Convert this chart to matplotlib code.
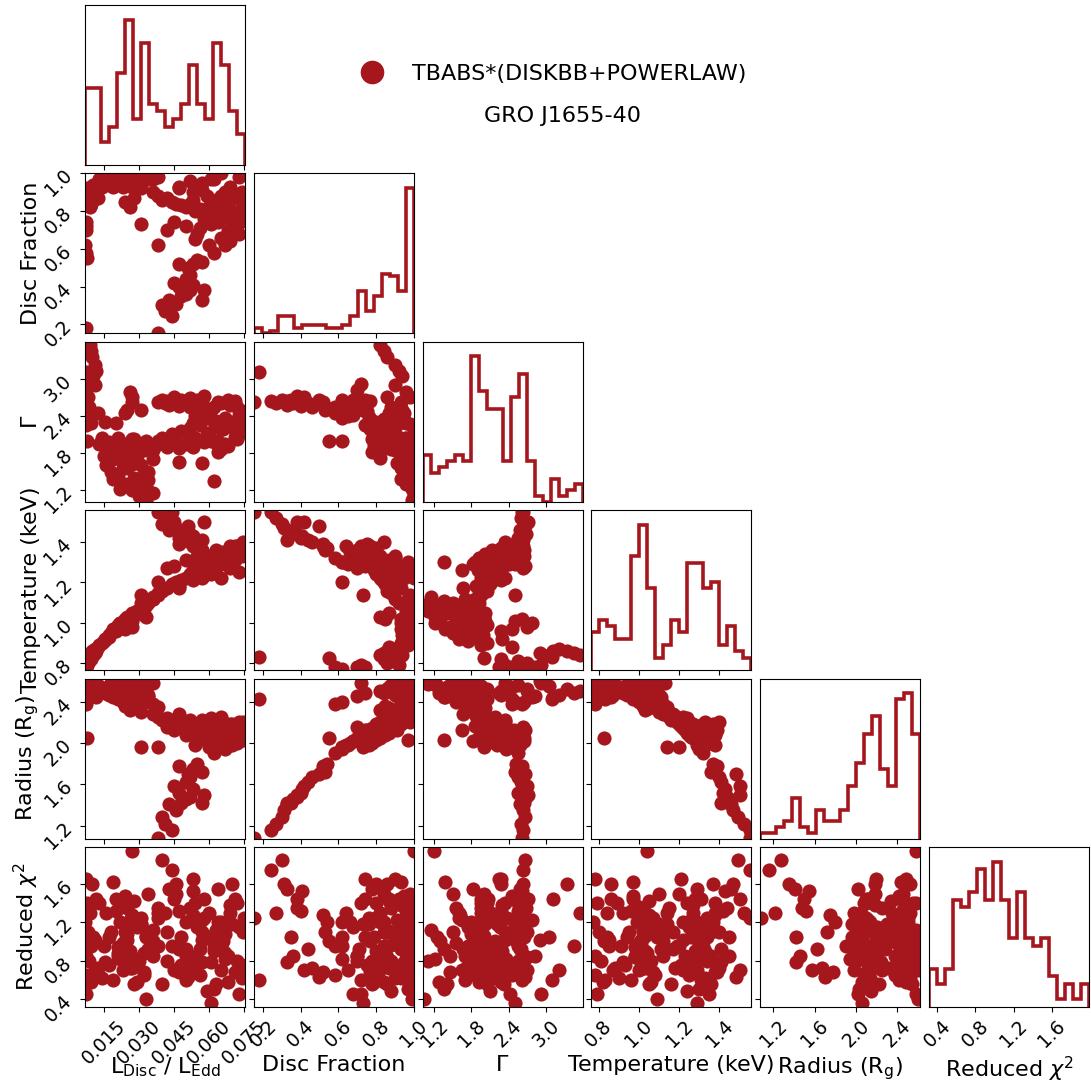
import numpy as np
import matplotlib
matplotlib.use("Agg")
import matplotlib.pyplot as plt
from matplotlib.lines import Line2D
from matplotlib.ticker import FixedLocator, FormatStrFormatter

RED = "#a5171d"

# == parameters ===================================================
labels = [r"$\mathrm{L_{Disc}}$ / $\mathrm{L_{Edd}}$", "Disc Fraction", r"$\Gamma$",
          "Temperature (keV)", r"Radius ($\mathrm{R_g}$)", r"Reduced $\chi^2$"]
ranges = [(0.0069, 0.0754), (0.152, 1.0), (1.012, 3.595),
          (0.764, 1.559), (1.074, 2.622), (0.313, 1.99)]
ticks = [[0.015, 0.030, 0.045, 0.060, 0.075], [0.2, 0.4, 0.6, 0.8, 1.0],
         [1.2, 1.8, 2.4, 3.0], [0.8, 1.0, 1.2, 1.4], [1.2, 1.6, 2.0, 2.4],
         [0.4, 0.8, 1.2, 1.6]]
tick_fmt = ["%.3f", "%.1f", "%.1f", "%.1f", "%.1f", "%.1f"]

# == 1D histogram counts (20 bins across each range) ===============
hist_ldisc = [10, 10, 3, 5, 12, 19, 6, 16, 8, 7, 5, 6, 8, 13, 8, 6, 16, 13, 7, 4]
hist_frac = [2, 0, 1, 6, 6, 2, 3, 3, 3, 2, 2, 3, 6, 15, 8, 13, 21, 20, 15, 51]
hist_gamma = [8, 5, 6, 7, 8, 7, 25, 19, 16, 16, 7, 18, 22, 7, 1, 0, 4, 1, 2, 3]
hist_temp = [6, 8, 7, 5, 5, 18, 23, 13, 2, 4, 8, 6, 17, 17, 13, 14, 4, 7, 3, 2]
hist_radius = [1, 1, 2, 3, 7, 2, 1, 5, 3, 3, 5, 9, 13, 18, 21, 12, 9, 24, 25, 18]
hist_chi2 = [5, 3, 5, 14, 13, 15, 18, 14, 19, 14, 9, 15, 9, 8, 9, 4, 1, 3, 1, 3]

# == fitted points: (L/LEdd, disc frac, Gamma, kT, R, chi2) ==========
hot_branch = np.array([
    (0.038, 0.155, 2.62, 1.55, 1.08, 1.25), (0.044, 0.245, 2.64, 1.55, 1.16, 1.75),
    (0.041, 0.27, 2.60, 1.52, 1.22, 1.30), (0.040, 0.30, 2.66, 1.49, 1.28, 1.85),
    (0.046, 0.31, 2.63, 1.47, 1.35, 1.60), (0.043, 0.33, 2.58, 1.46, 1.41, 1.55),
    (0.048, 0.35, 2.65, 1.45, 1.42, 1.05), (0.050, 0.36, 2.61, 1.45, 1.46, 0.85),
    (0.052, 0.38, 2.68, 1.44, 1.48, 1.35), (0.047, 0.40, 2.56, 1.42, 1.52, 1.32),
    (0.053, 0.41, 2.62, 1.43, 1.55, 1.53), (0.057, 0.33, 2.64, 1.41, 1.42, 0.78),
    (0.050, 0.44, 2.60, 1.41, 1.62, 0.92), (0.052, 0.46, 2.55, 1.40, 1.67, 0.72),
    (0.047, 0.52, 2.62, 1.39, 1.78, 0.68), (0.053, 0.52, 2.58, 1.38, 1.75, 1.28),
    (0.055, 0.54, 2.52, 1.37, 1.80, 1.20), (0.051, 0.50, 2.66, 1.48, 1.70, 0.63),
    (0.045, 0.42, 2.70, 1.50, 1.58, 0.70), (0.058, 0.38, 2.72, 1.50, 1.50, 1.45),
    (0.057, 0.53, 2.50, 1.36, 1.72, 1.10),
])

transition = np.array([
    (0.060, 0.62, 2.45, 1.30, 1.96, 1.05), (0.062, 0.58, 2.55, 1.32, 1.90, 0.95),
    (0.065, 0.66, 2.60, 1.35, 2.00, 1.20), (0.068, 0.70, 2.65, 1.36, 2.05, 0.85),
    (0.072, 0.72, 2.55, 1.38, 2.08, 1.40), (0.074, 0.75, 2.48, 1.39, 2.12, 0.75),
    (0.055, 0.68, 2.65, 1.33, 2.02, 1.15), (0.050, 0.72, 2.62, 1.31, 2.08, 0.60),
    (0.045, 0.74, 2.66, 1.28, 2.12, 1.45), (0.042, 0.70, 2.64, 1.27, 2.15, 0.80),
    (0.058, 0.76, 2.38, 1.34, 2.10, 1.25), (0.063, 0.78, 2.32, 1.36, 2.14, 0.55),
    (0.070, 0.80, 2.28, 1.37, 2.18, 1.60), (0.066, 0.82, 2.22, 1.33, 2.20, 0.90),
    (0.0745, 0.84, 2.35, 1.40, 2.20, 1.10), (0.073, 0.68, 2.42, 1.35, 2.02, 0.45),
    (0.061, 0.73, 2.50, 1.29, 2.06, 0.35), (0.054, 0.65, 2.40, 1.29, 1.98, 0.70),
    (0.067, 0.62, 2.36, 1.30, 1.94, 0.82), (0.069, 0.64, 2.58, 1.38, 1.98, 1.30),
    (0.038, 0.62, 2.00, 1.20, 1.96, 0.95), (0.031, 0.73, 2.50, 1.14, 1.96, 1.18),
    (0.064, 0.74, 2.62, 1.34, 2.06, 1.05), (0.056, 0.71, 2.58, 1.32, 2.04, 0.92),
    (0.071, 0.77, 2.64, 1.38, 2.10, 0.68),
])

bright_disc = np.array([
    (0.036, 0.90, 1.85, 1.12, 2.28, 1.00), (0.038, 0.88, 1.95, 1.15, 2.25, 1.35),
    (0.040, 0.86, 2.05, 1.16, 2.22, 0.55), (0.042, 0.87, 1.90, 1.17, 2.24, 1.10),
    (0.044, 0.85, 2.10, 1.19, 2.20, 0.95), (0.046, 0.84, 2.00, 1.20, 2.18, 1.50),
    (0.048, 0.83, 2.15, 1.21, 2.16, 0.75), (0.050, 0.82, 1.95, 1.22, 2.14, 1.20),
    (0.052, 0.84, 2.20, 1.23, 2.12, 0.85), (0.054, 0.80, 2.05, 1.24, 2.10, 1.40),
    (0.056, 0.81, 2.25, 1.25, 2.08, 0.65), (0.058, 0.79, 1.98, 1.26, 2.06, 1.05),
    (0.060, 0.82, 2.12, 1.27, 2.05, 1.30), (0.062, 0.80, 2.30, 1.28, 2.04, 0.90),
    (0.064, 0.78, 1.82, 1.29, 2.02, 1.55), (0.066, 0.77, 2.18, 1.31, 2.00, 1.00),
    (0.068, 0.79, 1.92, 1.32, 2.06, 0.58), (0.070, 0.76, 2.22, 1.33, 1.98, 1.18),
    (0.072, 0.78, 2.02, 1.34, 2.00, 0.80), (0.075, 0.80, 2.14, 1.36, 2.03, 1.25),
    (0.047, 0.92, 1.88, 1.18, 2.26, 0.72), (0.053, 0.90, 2.28, 1.21, 2.19, 1.65),
    (0.059, 0.88, 2.10, 1.24, 2.15, 0.48), (0.063, 0.86, 1.96, 1.27, 2.12, 1.12),
    (0.067, 0.85, 2.26, 1.29, 2.08, 0.88), (0.071, 0.87, 2.06, 1.31, 2.10, 1.45),
    (0.074, 0.90, 2.20, 1.33, 2.14, 0.62), (0.057, 0.95, 2.34, 1.22, 2.22, 1.02),
    (0.061, 0.97, 2.00, 1.24, 2.24, 0.78), (0.069, 0.93, 2.30, 1.27, 2.18, 1.38),
    (0.065, 1.00, 2.18, 1.22, 2.25, 0.70), (0.073, 0.98, 2.26, 1.25, 2.20, 1.15),
    (0.047, 0.93, 1.66, 1.17, 2.28, 0.92), (0.057, 0.91, 1.64, 1.26, 2.12, 1.22),
    (0.062, 0.97, 1.35, 1.30, 2.03, 0.50), (0.065, 0.88, 1.86, 1.30, 2.16, 0.96),
    (0.067, 0.90, 1.94, 1.32, 2.18, 1.08), (0.053, 0.86, 1.90, 1.26, 2.17, 0.84),
    (0.064, 0.84, 2.00, 1.29, 2.11, 1.20), (0.052, 0.96, 2.04, 1.24, 2.22, 0.72),
])

disc_dominated = np.array([
    (0.015, 0.96, 1.75, 0.91, 2.50, 0.95), (0.016, 0.98, 1.60, 0.92, 2.52, 1.30),
    (0.017, 0.99, 1.85, 0.93, 2.55, 0.75), (0.018, 1.00, 1.50, 0.95, 2.58, 1.10),
    (0.019, 0.97, 1.70, 0.96, 2.48, 0.60), (0.020, 0.95, 1.95, 0.97, 2.45, 1.45),
    (0.021, 0.99, 1.45, 0.98, 2.56, 0.85), (0.022, 0.98, 1.80, 0.99, 2.50, 1.20),
    (0.023, 1.00, 1.65, 1.00, 2.60, 0.70), (0.024, 0.96, 1.30, 1.01, 2.52, 1.00),
    (0.025, 0.99, 1.55, 1.02, 2.47, 1.35), (0.026, 0.97, 1.90, 1.03, 2.44, 0.90),
    (0.027, 1.00, 1.20, 1.04, 2.58, 1.95), (0.028, 0.98, 1.40, 1.05, 2.54, 0.55),
    (0.029, 0.96, 1.75, 1.06, 2.42, 1.15), (0.030, 1.00, 1.10, 1.06, 2.57, 0.80),
    (0.031, 0.99, 1.60, 1.07, 2.50, 1.25), (0.032, 0.97, 1.85, 1.08, 2.40, 0.65),
    (0.033, 1.00, 1.25, 1.09, 2.55, 1.05), (0.034, 0.98, 1.50, 1.10, 2.46, 1.50),
    (0.033, 0.99, 1.04, 1.09, 2.60, 0.40), (0.036, 0.97, 1.70, 1.12, 2.38, 0.85),
    (0.038, 0.98, 1.95, 1.14, 2.35, 1.30), (0.024, 0.85, 1.88, 1.02, 2.36, 1.10),
    (0.026, 0.82, 1.72, 1.03, 2.32, 0.72), (0.028, 0.87, 2.02, 1.05, 2.34, 1.42),
    (0.023, 0.93, 1.55, 1.00, 2.40, 0.98), (0.019, 0.93, 1.38, 0.97, 2.44, 1.62),
    (0.029, 0.98, 1.28, 1.06, 2.48, 0.58), (0.031, 0.92, 1.92, 1.10, 2.30, 1.18),
    (0.021, 0.96, 2.05, 0.99, 2.42, 0.88), (0.017, 0.94, 1.98, 0.94, 2.46, 1.05),
    (0.034, 0.97, 1.36, 1.11, 2.44, 0.92), (0.036, 1.00, 1.15, 1.13, 2.58, 1.12),
    (0.027, 0.99, 1.62, 1.05, 2.40, 1.28), (0.022, 0.99, 1.22, 1.00, 2.59, 0.82),
    (0.032, 1.00, 1.46, 1.07, 2.53, 0.68), (0.025, 1.00, 1.80, 1.03, 2.51, 1.08),
    (0.0155, 0.95, 2.30, 0.92, 2.48, 0.78), (0.020, 0.96, 2.28, 0.96, 2.46, 1.32),
    (0.014, 0.93, 2.05, 0.90, 2.52, 0.62), (0.013, 0.97, 1.95, 0.89, 2.55, 1.40),
    (0.024, 0.99, 1.88, 1.01, 2.53, 0.98), (0.025, 0.98, 1.92, 1.02, 2.49, 1.12),
    (0.026, 1.00, 1.84, 1.02, 2.55, 0.76), (0.022, 0.99, 1.97, 1.00, 2.47, 1.36),
    (0.032, 0.99, 1.90, 1.04, 2.52, 0.88), (0.033, 0.98, 2.00, 1.03, 2.50, 1.06),
    (0.021, 1.00, 1.82, 0.98, 2.57, 0.94), (0.027, 0.99, 2.02, 1.01, 2.45, 1.18),
    (0.025, 0.94, 2.50, 1.01, 2.40, 1.02), (0.026, 0.96, 2.78, 1.00, 2.44, 1.22),
    (0.027, 0.93, 2.62, 1.02, 2.38, 0.72), (0.024, 0.95, 2.45, 0.97, 2.42, 1.48),
    (0.027, 0.98, 2.70, 0.98, 2.50, 0.84),
])

faint = np.array([
    (0.0090, 0.82, 3.55, 0.84, 2.50, 1.30), (0.0095, 0.84, 3.45, 0.85, 2.48, 0.95),
    (0.0100, 0.86, 3.35, 0.86, 2.52, 1.60), (0.0110, 0.90, 3.22, 0.87, 2.46, 0.70),
    (0.0115, 0.92, 3.12, 0.86, 2.44, 1.45), (0.0105, 0.94, 3.05, 0.84, 2.55, 1.05),
    (0.0075, 0.72, 2.92, 0.79, 2.58, 0.45), (0.0072, 0.70, 2.82, 0.78, 2.45, 0.85),
    (0.0070, 0.62, 2.65, 0.77, 2.40, 1.20), (0.0072, 0.58, 2.45, 0.78, 2.38, 0.65),
    (0.0080, 0.86, 2.70, 0.80, 2.52, 1.10), (0.0085, 0.88, 2.55, 0.81, 2.56, 0.80),
    (0.0078, 0.92, 2.35, 0.79, 2.58, 1.40), (0.0095, 0.84, 2.28, 0.82, 2.50, 0.58),
    (0.0110, 0.90, 2.90, 0.85, 2.60, 1.02), (0.0125, 0.87, 2.45, 0.88, 2.54, 0.72),
    (0.0072, 0.74, 2.25, 0.78, 2.48, 1.65), (0.0076, 0.55, 2.00, 0.825, 2.05, 1.00),
    (0.0075, 0.178, 3.10, 0.83, 2.42, 0.60),
])

points = np.vstack([hot_branch, transition, bright_disc, disc_dominated, faint])
hists = [hist_ldisc, hist_frac, hist_gamma, hist_temp, hist_radius, hist_chi2]

# == figure ========================================================
W, H = 1091, 1090
fig = plt.figure(figsize=(W / 100, H / 100), dpi=100)
n = len(labels)
size = 160
for i in range(n):
    for j in range(i + 1):
        x0 = 85 + j * 168.8
        y0 = 5 + i * 168.4
        ax = fig.add_axes([x0 / W, 1 - (y0 + size) / H, size / W, size / H])
        if i == j:
            edges = np.linspace(ranges[i][0], ranges[i][1], len(hists[i]) + 1)
            ax.stairs(hists[i], edges, color=RED, lw=2.6, baseline=0)
            ax.set_ylim(0, 1.1 * max(hists[i]))
            ax.set_yticks([])
        else:
            ax.plot(points[:, j], points[:, i], 'o', ms=10.2, mew=0, color=RED)
            ax.set_ylim(ranges[i])
            ax.yaxis.set_major_locator(FixedLocator(ticks[i]))
            ax.yaxis.set_major_formatter(FormatStrFormatter(tick_fmt[i]))
        ax.set_xlim(ranges[j])
        ax.xaxis.set_major_locator(FixedLocator(ticks[j]))
        ax.xaxis.set_major_formatter(FormatStrFormatter(tick_fmt[j]))
        ax.tick_params(labelsize=13.5)

        if i < n - 1:
            ax.set_xticklabels([])
        else:
            for lab in ax.get_xticklabels():
                lab.set_rotation(45)
            ax.set_xlabel(labels[j], fontsize=16)
            ax.xaxis.set_label_coords(0.5, -0.30)
        if j > 0 or i == 0:
            if i != j:
                ax.set_yticklabels([])
        else:
            for lab in ax.get_yticklabels():
                lab.set_rotation(45)
            ax.set_ylabel(labels[i], fontsize=16)
            ax.yaxis.set_label_coords(-0.275, 0.5)

handle = Line2D([], [], marker='o', ls='', ms=17, mew=0, color=RED)
fig.legend(handles=[handle], labels=["TBABS*(DISKBB+POWERLAW)"], loc='center left',
           bbox_to_anchor=(350 / W, 1 - 74 / H), frameon=False, fontsize=16,
           borderpad=0, borderaxespad=0)
fig.text(563 / W, 1 - 116 / H, "GRO J1655-40", ha='center', va='center', fontsize=16)

fig.savefig("out.png", dpi=100)
